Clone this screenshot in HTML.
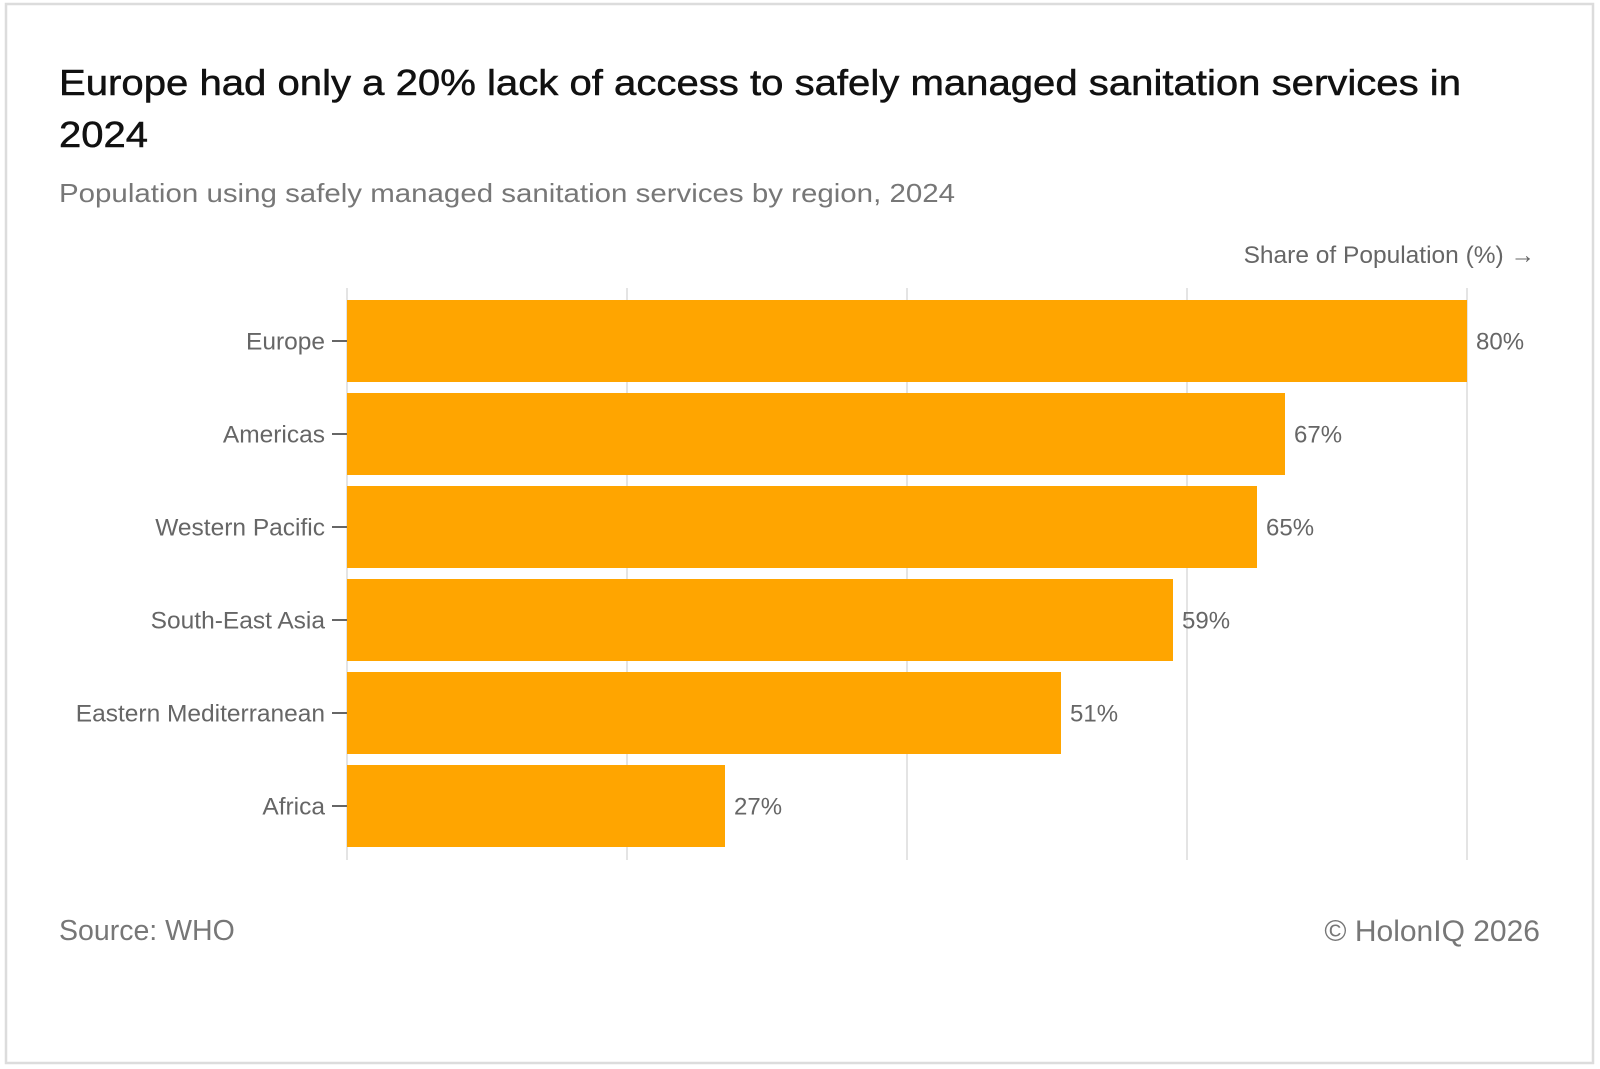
<!DOCTYPE html>
<html><head><meta charset="utf-8"><style>
html,body{margin:0;padding:0;background:#fff;}
svg{display:block;font-family:"Liberation Sans",sans-serif;}
</style></head><body>
<svg id="chart" width="1600" height="1069" viewBox="0 0 1600 1069" xmlns="http://www.w3.org/2000/svg">
<rect x="6" y="4" width="1587" height="1059" fill="#fff" stroke="#dcdcdc" stroke-width="2.5"/>
<text x="59" y="95" font-size="36" fill="#111" stroke="#111" stroke-width="0.5" textLength="1402" lengthAdjust="spacingAndGlyphs">Europe had only a 20% lack of access to safely managed sanitation services in</text>
<text x="59" y="147" font-size="36" fill="#111" stroke="#111" stroke-width="0.5" textLength="89" lengthAdjust="spacingAndGlyphs">2024</text>
<text x="59" y="202" font-size="26" fill="#777" textLength="896" lengthAdjust="spacingAndGlyphs">Population using safely managed sanitation services by region, 2024</text>
<text x="1535" y="263" font-size="24.5" fill="#666" text-anchor="end">Share of Population (%) →</text>
<g id="grid"></g>
<g id="bars"></g>
<text x="59" y="940" font-size="28.5" fill="#777">Source: WHO</text>
<text x="1540" y="941" font-size="30" fill="#777" text-anchor="end">© HolonIQ 2026</text>
</svg>
<script>
const categories = ["Europe","Americas","Western Pacific","South-East Asia","Eastern Mediterranean","Africa"];
const values = [80,67,65,59,51,27];
const valueLabels = ["80%","67%","65%","59%","51%","27%"];
const gridTicks = [0,20,40,60,80];

const NS = "http://www.w3.org/2000/svg";
const x0 = 347, pxPer = (1467 - 347) / 80;
const xScale = v => x0 + v * pxPer;
const top0 = 300, pitch = 93, barH = 82;
const yScale = i => top0 + i * pitch;

const grid = document.getElementById('grid');
gridTicks.forEach(t => {
  const l = document.createElementNS(NS, 'line');
  
  
  l.setAttribute('x1', xScale(t)); l.setAttribute('x2', xScale(t));
  l.setAttribute('y1', 288); l.setAttribute('y2', 860);
  l.setAttribute('stroke', '#e4e4e4'); l.setAttribute('stroke-width', 2);
  grid.appendChild(l);
});

const bars = document.getElementById('bars');
categories.forEach((c, i) => {
  const y = yScale(i), cy = y + barH / 2;
  const r = document.createElementNS(NS, 'rect');
  
  
  r.setAttribute('x', xScale(0)); r.setAttribute('y', y);
  r.setAttribute('width', xScale(values[i]) - xScale(0)); r.setAttribute('height', barH);
  r.setAttribute('fill', '#ffa500');
  bars.appendChild(r);

  const tk = document.createElementNS(NS, 'line');
  
  
  tk.setAttribute('x1', 332); tk.setAttribute('x2', 347);
  tk.setAttribute('y1', cy); tk.setAttribute('y2', cy);
  tk.setAttribute('stroke', '#666'); tk.setAttribute('stroke-width', 2);
  bars.appendChild(tk);

  const lb = document.createElementNS(NS, 'text');
  
  
  lb.setAttribute('x', 325); lb.setAttribute('y', cy + 8.5);
  lb.setAttribute('font-size', 24.5); lb.setAttribute('fill', '#666');
  lb.setAttribute('text-anchor', 'end');
  lb.textContent = c;
  bars.appendChild(lb);

  const vl = document.createElementNS(NS, 'text');
  
  
  vl.setAttribute('x', xScale(values[i]) + 9); vl.setAttribute('y', cy + 8.5);
  vl.setAttribute('font-size', 24); vl.setAttribute('fill', '#666');
  vl.textContent = valueLabels[i];
  bars.appendChild(vl);
});
</script>
</body></html>
